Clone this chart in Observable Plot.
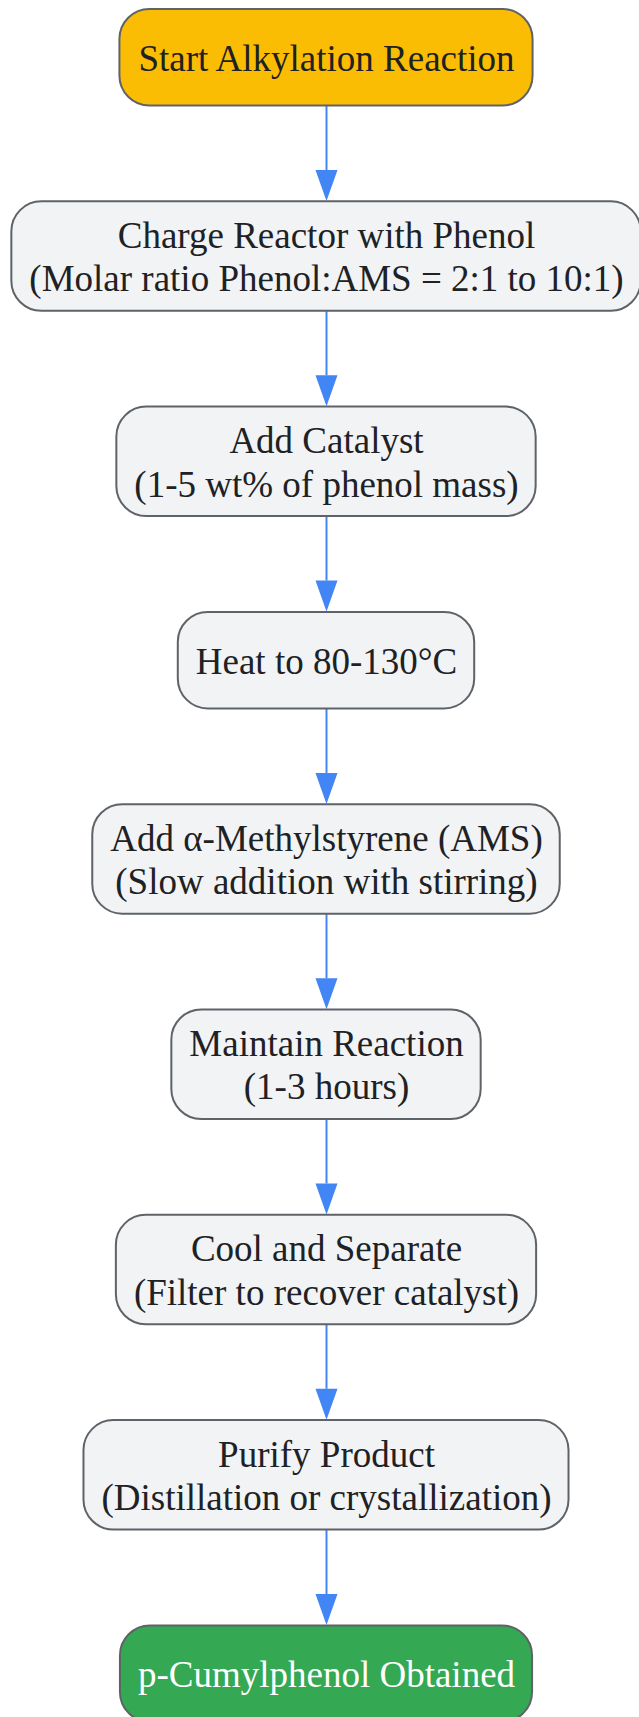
<!DOCTYPE html>
<html>
<head>
<meta charset="utf-8">
<script src="https://cdn.jsdelivr.net/npm/d3@7"></script>
<script src="https://cdn.jsdelivr.net/npm/@observablehq/plot@0.6"></script>
<style>
  html, body { margin: 0; padding: 0; background: #ffffff; }
  #chart { width: 639px; height: 1717px; overflow: hidden; }
</style>
</head>
<body>
<div id="chart"></div>
<script>
// ---- Data ----
const stepLabels = [
  "Start Alkylation Reaction",
  "Charge Reactor with Phenol\n(Molar ratio Phenol:AMS = 2:1 to 10:1)",
  "Add Catalyst\n(1-5 wt% of phenol mass)",
  "Heat to 80-130°C",
  "Add α-Methylstyrene (AMS)\n(Slow addition with stirring)",
  "Maintain Reaction\n(1-3 hours)",
  "Cool and Separate\n(Filter to recover catalyst)",
  "Purify Product\n(Distillation or crystallization)",
  "p-Cumylphenol Obtained"
];
const stepKinds = ["start", "process", "process", "process", "process", "process", "process", "process", "end"];

// ---- Styles ----
const W = 639, H = 1717;
const FONT_SIZE = 37;
const FONT = `${FONT_SIZE}px 'Liberation Serif'`;
const fillByKind = {start: "#FBBC04", process: "#F1F3F4", end: "#34A853"};
const textByKind = {start: "#202124", process: "#202124", end: "#FFFFFF"};
const CX = 326, PAD = 17.5, GAP = 95.8, TOP = 9;
const H1 = 96.5, H2 = 109.5;
const LINE_H = 43.5;

// ---- Layout derived from labels ----
const ctx = document.createElement("canvas").getContext("2d");
ctx.font = FONT;
let yCursor = TOP;
const nodes = stepLabels.map((label, i) => {
  const lines = label.split("\n");
  const tw = d3.max(lines, l => ctx.measureText(l).width);
  const h = lines.length > 1 ? H2 : H1;
  const n = {
    label, kind: stepKinds[i],
    x1: CX - tw / 2 - PAD, x2: CX + tw / 2 + PAD,
    y1: yCursor, y2: yCursor + h, cx: CX, cy: yCursor + h / 2
  };
  yCursor += h + GAP;
  return n;
});
const edges = d3.pairs(nodes).map(([a, b]) => ({
  x: CX, from: a.y2, tip: b.y1 - 0.8, base: b.y1 - 0.8 - 31
}));

const downTriangle = {
  draw(context) {
    context.moveTo(-11, -15.5);
    context.lineTo(11, -15.5);
    context.lineTo(0, 15.5);
    context.closePath();
  }
};

const chart = Plot.plot({
  width: W, height: H,
  margin: 0,
  x: {type: "linear", domain: [0, W], range: [0, W], axis: null},
  y: {type: "linear", domain: [0, H], range: [0, H], axis: null},
  style: {background: "#ffffff"},
  marks: [
    Plot.link(edges, {x1: "x", y1: "from", x2: "x", y2: "base", stroke: "#4285F4", strokeWidth: 2}),
    Plot.dot(edges, {x: "x", y: d => d.tip - 15.5, symbol: downTriangle, fill: "#4285F4", stroke: "none"}),
    Plot.rect(nodes, {
      x1: "x1", x2: "x2", y1: "y1", y2: "y2", rx: 30,
      fill: d => fillByKind[d.kind], stroke: "#5F6368", strokeWidth: 2
    }),
    Plot.text(nodes, {
      x: "cx", y: "cy", text: "label",
      fontSize: FONT_SIZE, fontFamily: "Liberation Serif",
      lineHeight: LINE_H / FONT_SIZE, dy: -1,
      fill: d => textByKind[d.kind]
    })
  ]
});
document.getElementById("chart").appendChild(chart);
</script>
</body>
</html>
